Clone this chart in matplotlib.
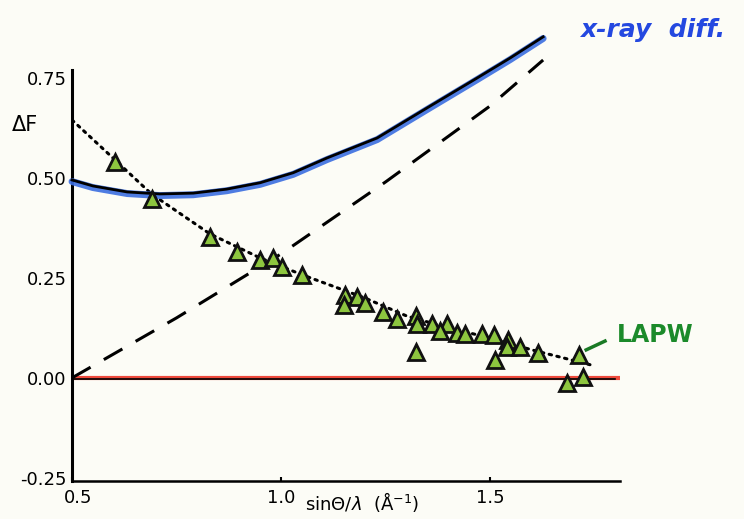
import matplotlib.pyplot as plt
import matplotlib.transforms as mtransforms
import numpy as np

# x-ray diffraction curve (blue band with black line)
xray_x = [0.5, 0.55, 0.632, 0.71, 0.79, 0.87, 0.95, 1.029, 1.11, 1.23, 1.349, 1.469, 1.548, 1.627]
xray_y = [0.495, 0.48, 0.465, 0.46, 0.462, 0.472, 0.488, 0.513, 0.55, 0.60, 0.675, 0.75, 0.80, 0.853]

# dashed curve
dash_x = [0.5, 0.75, 1.0, 1.25, 1.5, 1.627]
dash_y = [0.0, 0.15, 0.31, 0.49, 0.68, 0.795]

# dotted guide through the LAPW points
dot_x = [0.5, 0.603, 0.69, 0.83, 0.95, 1.05, 1.2, 1.3, 1.4, 1.5, 1.6, 1.75]
dot_y = [0.645, 0.545, 0.46, 0.36, 0.30, 0.258, 0.20, 0.155, 0.125, 0.10, 0.07, 0.03]

# LAPW triangles
lapw_x = [0.603, 0.691, 0.830, 0.895, 0.950, 0.981, 1.002, 1.050, 1.153, 1.182,
          1.201, 1.151, 1.244, 1.278, 1.323, 1.325, 1.323, 1.361, 1.397, 1.380,
          1.421, 1.440, 1.481, 1.510, 1.512, 1.543, 1.541, 1.572, 1.615, 1.713,
          1.684, 1.722]
lapw_y = [0.540, 0.448, 0.353, 0.315, 0.295, 0.300, 0.278, 0.258, 0.208, 0.203,
          0.188, 0.183, 0.165, 0.148, 0.155, 0.135, 0.065, 0.135, 0.135, 0.118,
          0.113, 0.110, 0.110, 0.108, 0.045, 0.095, 0.078, 0.078, 0.062, 0.058,
          -0.012, 0.003]

yticks = [-0.25, 0.0, 0.25, 0.5, 0.75]
yticklabels = ["-0.25", "0.00", "0.25", "0.50", "0.75"]
xticks = [0.5, 1.0, 1.5]
xticklabels = ["0.5", "1.0", "1.5"]

bg = '#fcfcf6'
fig = plt.figure(figsize=(7.44, 5.19), dpi=100, facecolor=bg)
ax = fig.add_axes([0.0968, 0.0732, 0.7366, 0.7919], facecolor=bg)

# zero line: red marker under a thin black line
ax.plot([0.5, 1.81], [0, 0], color='#ee4a3c', lw=3, solid_capstyle='round', zorder=2)
ax.plot([0.5, 1.80], [-0.003, -0.003], color='black', lw=1.2, zorder=3)

ax.plot(dash_x, dash_y, color='black', lw=2.2, dashes=(7, 5), zorder=3, clip_on=False)
ax.plot(dot_x, dot_y, color='black', lw=2.2, linestyle=(0, (0.8, 1.8)),
        dash_capstyle='round', zorder=3)

ax.plot(xray_x, np.array(xray_y) - 0.004, color='#3b6ee0', lw=5,
        solid_capstyle='round', alpha=0.9, zorder=4, clip_on=False)
ax.plot(xray_x, xray_y, color='black', lw=2, zorder=5, clip_on=False)

ax.plot(lapw_x, lapw_y, linestyle='none', marker='^', markersize=11,
        markerfacecolor='#8dc63f', markeredgecolor='#111111', markeredgewidth=2, zorder=6)

ax.set_xlim(0.5, 1.811)
ax.set_ylim(-0.258, 0.77)
ax.set_yticks(yticks)
ax.set_yticklabels(yticklabels, fontsize=13)
ax.set_xticks(xticks)
ax.set_xticklabels(xticklabels, fontsize=13)
ax.tick_params(axis='y', length=0, pad=4)
ax.tick_params(axis='x', direction='in', length=3, width=1.5, pad=6)
# first x label sits a little right of the corner
lab0 = ax.get_xticklabels()[0]
lab0.set_transform(lab0.get_transform() + mtransforms.ScaledTranslation(6 / 100, 0, fig.dpi_scale_trans))

for side in ['top', 'right']:
    ax.spines[side].set_visible(False)
ax.spines['left'].set_linewidth(2.2)
ax.spines['bottom'].set_linewidth(1.8)

fig.text(305 / 744, 1 - 502 / 519, r'sin$\Theta$/$\lambda$  ($\mathrm{\AA}^{-1}$)',
         fontsize=13, va='center')
fig.text(12 / 744, 1 - 125 / 519, 'ΔF', fontsize=15, va='center')

fig.text(653 / 744, 1 - 30 / 519, 'x-ray  diff.', fontsize=18, fontweight='bold',
         fontstyle='italic', color='#2448e0', ha='center', va='center')
ax.plot([1.73, 1.775], [0.07, 0.092], color='#1a7a25', lw=2.5, zorder=7, clip_on=False)
fig.text(655 / 744, 1 - 335 / 519, 'LAPW', fontsize=17, fontweight='bold',
         color='#1b8a2a', ha='center', va='center')

fig.savefig('out.png', dpi=100, facecolor=bg)
